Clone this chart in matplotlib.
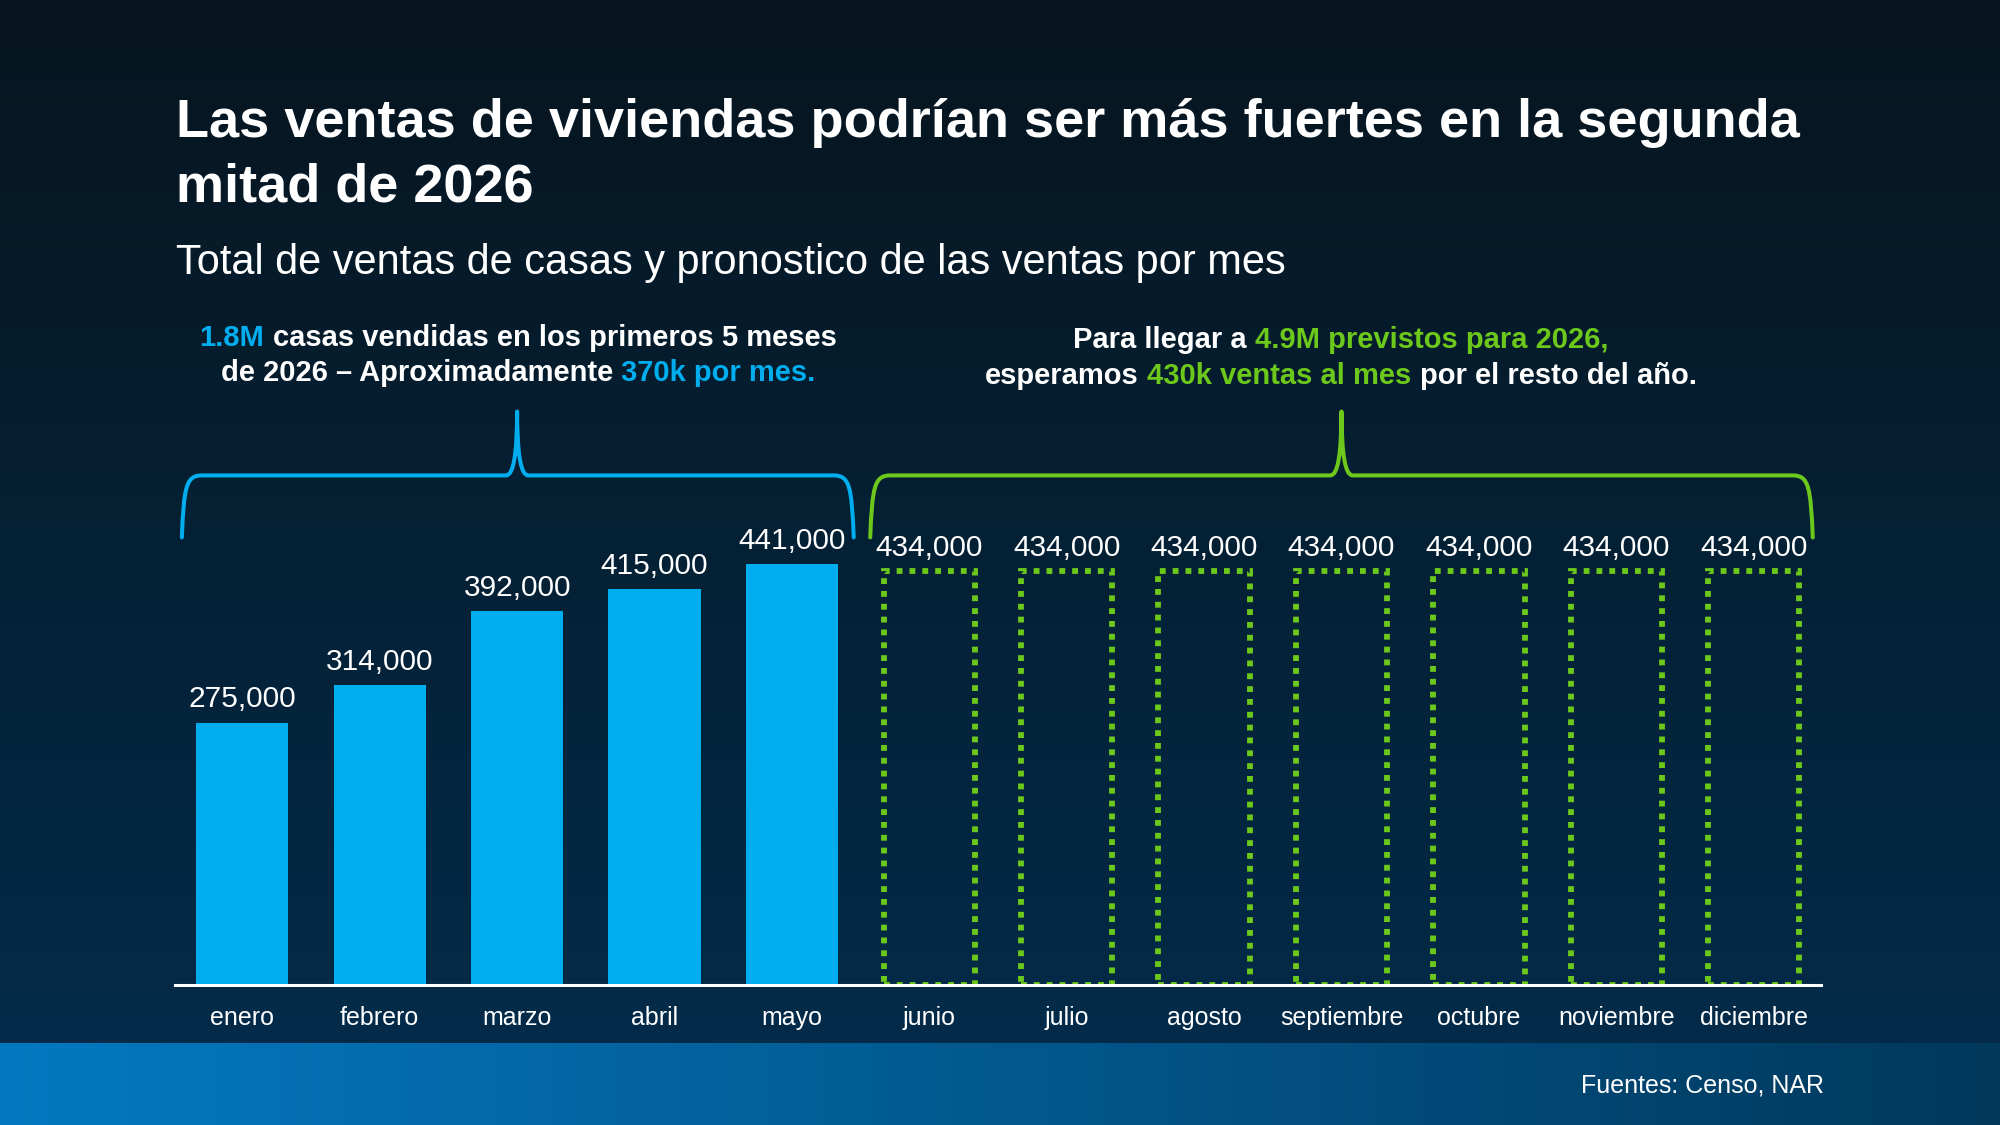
import numpy as np
import matplotlib
matplotlib.use("Agg")
import matplotlib.pyplot as plt
from matplotlib.path import Path
from matplotlib.patches import PathPatch
from matplotlib.colors import to_rgb

# ---------------- data ----------------
months = ["enero", "febrero", "marzo", "abril", "mayo", "junio", "julio",
          "agosto", "septiembre", "octubre", "noviembre", "diciembre"]
actual_months = ["enero", "febrero", "marzo", "abril", "mayo"]
actual_sales = [275000, 314000, 392000, 415000, 441000]
forecast_months = ["junio", "julio", "agosto", "septiembre", "octubre", "noviembre", "diciembre"]
forecast_sales = [434000, 434000, 434000, 434000, 434000, 434000, 434000]

title_lines = ["Las ventas de viviendas podrían ser más fuertes en la segunda",
               "mitad de 2026"]
subtitle = "Total de ventas de casas y pronostico de las ventas por mes"
source = "Fuentes: Censo, NAR"

BLUE = "#00AEEF"
GREEN = "#6CC81A"
WHITE = "#FFFFFF"

plt.rcParams['font.family'] = ['Liberation Sans', 'DejaVu Sans']

W, H = 2000, 1125
fig = plt.figure(figsize=(20, 11.25), dpi=100)

# ---------------- background ----------------
bg = fig.add_axes([0, 0, 1, 1], zorder=-10)
bg.axis('off')
FOOT = 1043
top = np.array(to_rgb("#07151F"))
bot = np.array(to_rgb("#032B49"))
t = np.linspace(0, 1, 256)[:, None]
grad = (top + (bot - top) * t).reshape(256, 1, 3)
bg.imshow(grad, extent=(0, W, FOOT, 0), aspect='auto', interpolation='bilinear')
fl = np.array(to_rgb("#0479C1"))
fr = np.array(to_rgb("#01385C"))
s = np.linspace(0, 1, 256)[None, :, None]
fgrad = fl + (fr - fl) * s
bg.imshow(fgrad, extent=(0, W, H, FOOT), aspect='auto', interpolation='bilinear')
bg.set_xlim(0, W)
bg.set_ylim(H, 0)

renderer = fig.canvas.get_renderer()


def text_width(s, **kw):
    tt = bg.text(0, 0, s, **kw)
    w = tt.get_window_extent(renderer).width
    tt.remove()
    return w


def rich_line(y, xc, segs, **kw):
    full = "".join(sg for sg, _ in segs)
    total = text_width(full, **kw)
    x0 = xc - total / 2
    bar_w = text_width("|", **kw)
    prefix = ""
    for sg, col in segs:
        lead = len(sg) - len(sg.lstrip(' '))
        ph = prefix + sg[:lead]
        off = (text_width(ph + "|", **kw) - bar_w) if ph else 0
        bg.text(x0 + off, y, sg.lstrip(' '), color=col, ha='left', va='baseline', **kw)
        prefix += sg


# titles
bg.text(176, 137, title_lines[0], color=WHITE, fontsize=39, fontweight='bold', va='baseline')
bg.text(176, 201, title_lines[1], color=WHITE, fontsize=39, fontweight='bold', va='baseline')
bg.text(176, 274, subtitle, color=WHITE, fontsize=29.9, va='baseline')

# annotations
akw = dict(fontsize=21, fontweight='bold')
rich_line(346, 518, [("1.8M", BLUE), (" casas vendidas en los primeros 5 meses", WHITE)], **akw)
rich_line(381, 518, [("de 2026 – Aproximadamente", WHITE), (" 370k por mes.", BLUE)], **akw)
rich_line(348, 1341, [("Para llegar a", WHITE), (" 4.9M previstos para 2026,", GREEN)], **akw)
rich_line(384, 1341, [("esperamos", WHITE), (" 430k ventas al mes", GREEN),
                      (" por el resto del año.", WHITE)], **akw)

bg.text(1824, 1085, source, color=WHITE, fontsize=18, ha='right', va='center')

# ---------------- bars ----------------
AX_L, AX_W_PX = 175, 1646
AX_B_PX, AX_H_PX = 140, 668
ax = fig.add_axes([AX_L / W, AX_B_PX / H, AX_W_PX / W, AX_H_PX / H])
ax.patch.set_alpha(0)
XLIM = (-0.49, 11.49)
YMAX = 700000
ax.set_xlim(*XLIM)
ax.set_ylim(0, YMAX)

x_act = [months.index(m) for m in actual_months]
x_fc = [months.index(m) for m in forecast_months]
ax.bar(x_act, actual_sales, width=0.67, color=BLUE, zorder=2)
ax.bar(x_fc, forecast_sales, width=0.665, fill=False, edgecolor=GREEN,
       linewidth=4.2, linestyle=(0, (1, 1.2)), zorder=2)

for xi, v in zip(x_act + x_fc, actual_sales + forecast_sales):
    ax.annotate(f"{v:,}", (xi, v), xytext=(0, 11), textcoords='offset points',
                ha='center', va='baseline', color=WHITE, fontsize=21.5)

for sp in ['top', 'left', 'right']:
    ax.spines[sp].set_visible(False)
ax.spines['bottom'].set_color(WHITE)
ax.spines['bottom'].set_linewidth(2.2)
ax.spines['bottom'].set_zorder(3)
ax.set_yticks([])
ax.set_xticks(range(len(months)), months)
ax.tick_params(axis='x', length=0, pad=15, labelsize=18, labelcolor=WHITE)

# ---------------- braces ----------------
px2x = (XLIM[1] - XLIM[0]) / AX_W_PX
px2y = YMAX / AX_H_PX


def brace(x0, x1, xc, ybot, yh, ytip, color):
    cx = 20 * px2x
    cy = 12 * px2y
    lean = 2 * px2x
    hw = 11 * px2x
    verts = [(x0, ybot), (x0 + lean, yh - cy), (x0 + 2 * lean, yh), (x0 + cx, yh),
             (xc - hw, yh),
             (xc, yh), (xc, ytip),
             (xc, yh), (xc + hw, yh),
             (x1 - cx, yh),
             (x1 - 2 * lean, yh), (x1 - lean, yh - cy), (x1, ybot)]
    codes = [Path.MOVETO, Path.CURVE4, Path.CURVE4, Path.CURVE4,
             Path.LINETO,
             Path.CURVE3, Path.CURVE3,
             Path.CURVE3, Path.CURVE3,
             Path.LINETO,
             Path.CURVE4, Path.CURVE4, Path.CURVE4]
    p = PathPatch(Path(verts, codes), fill=False, edgecolor=color, linewidth=2.9,
                  capstyle='round', joinstyle='round', clip_on=False)
    ax.add_patch(p)


brace(-0.44, 4.45, 2.0, 469000, 534000, 601000, BLUE)
brace(4.57, 11.43, 8.0, 469000, 534000, 601000, GREEN)

fig.savefig("out.png", dpi=100)
